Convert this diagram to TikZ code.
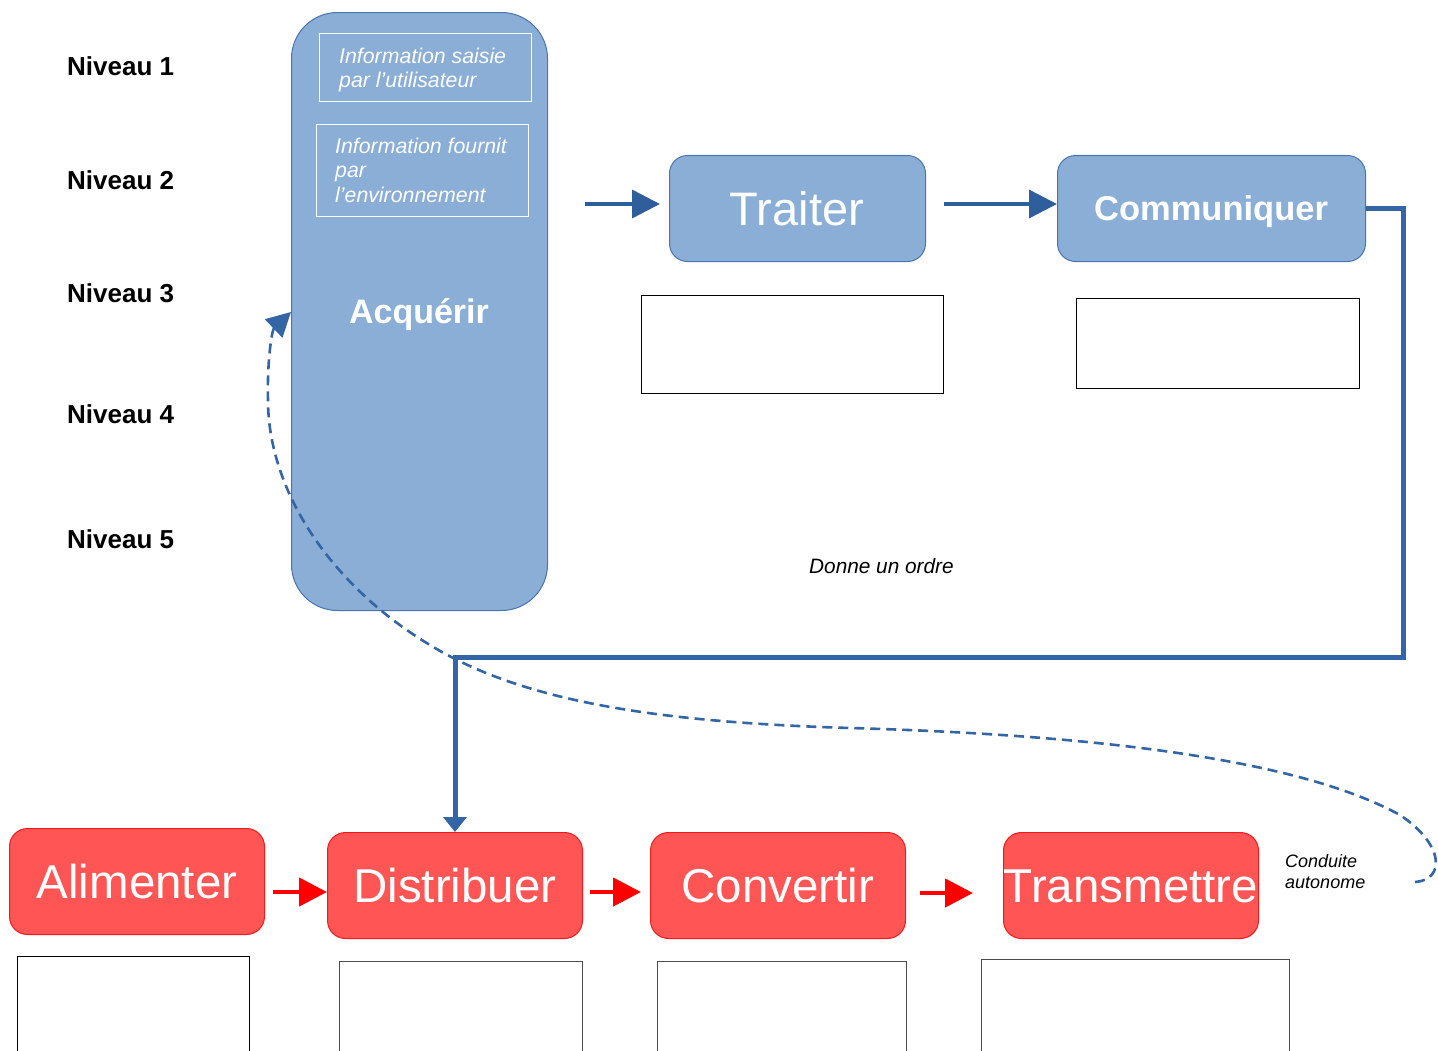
\documentclass[tikz,border=0pt]{standalone}
\usepackage{fontspec}
\setmainfont{Liberation Sans}
\usetikzlibrary{arrows.meta}
\definecolor{bfill}{HTML}{8AAED6}
\definecolor{bdraw}{HTML}{4A74B0}
\definecolor{barrow}{HTML}{2E5E9C}
\definecolor{bline}{HTML}{3465A4}
\definecolor{rfill}{HTML}{FF5555}
\definecolor{rdraw}{HTML}{EE1C1C}
\newcommand{\fsz}[1]{\fontsize{#1pt}{1.15\dimexpr#1pt\relax}\selectfont}
\begin{document}
\begin{tikzpicture}[x=1pt,y=-1pt,
  bluebox/.style={draw=bdraw, fill=bfill, line width=1pt, inner sep=0pt, anchor=north west},
  redbox/.style={draw=rdraw, fill=rfill, line width=1pt, inner sep=0pt, anchor=north west, rounded corners=18pt, minimum width=255pt, minimum height=106pt},
  infobox/.style={draw=white, line width=1.2pt, inner sep=0pt, anchor=north west},
  emptybox/.style={draw=black, line width=0.9pt, fill=white, inner sep=0pt, anchor=north west},
  lvl/.style={anchor=base west, inner sep=0pt, font=\bfseries\fsz{26}},
  redtext/.style={anchor=base, inner sep=0pt, text=white, font=\fsz{47.5}},
  infotext/.style={anchor=base west, inner sep=0pt, text=white, font=\itshape\fsz{21.3}},
  note/.style={anchor=base west, inner sep=0pt, font=\itshape\fsz{20.8}},
  bluearrow/.style={barrow, line width=3.5pt, -{Triangle[length=28pt,width=28pt]}},
  redarrow/.style={red, line width=4.5pt, -{Triangle[length=28pt,width=28pt]}},
]
\useasboundingbox (0,0) rectangle (1438,1050);
\clip (0,0) rectangle (1438,1050);

% Level labels
\node[lvl] (n1) at (67,75) {Niveau 1};
\node[lvl] (n2) at (67,189) {Niveau 2};
\node[lvl] (n3) at (67,302) {Niveau 3};
\node[lvl] (n4) at (67,423) {Niveau 4};
\node[lvl] (n5) at (67,548) {Niveau 5};

% Acquerir
\node[bluebox, rounded corners=46pt, minimum width=256pt, minimum height=598pt] (acq) at (291,12) {};
\node[anchor=base, inner sep=0pt, text=white, font=\bfseries\fsz{34}] (acqt) at (419,323) {Acquérir};
\node[infobox, minimum width=212pt, minimum height=68pt] (info1) at (319,33) {};
\node[infotext] (i1a) at (339,63) {Information saisie};
\node[infotext] (i1b) at (339,87) {par l’utilisateur};
\node[infobox, minimum width=212pt, minimum height=92pt] (info2) at (316,124) {};
\node[infotext] (i2a) at (335,153) {Information fournit};
\node[infotext] (i2b) at (335,177) {par};
\node[infotext] (i2c) at (335,202) {l’environnement};

% Traiter / Communiquer
\node[bluebox, rounded corners=18pt, minimum width=256pt, minimum height=106pt] (trait) at (669,155) {};
\node[anchor=base, inner sep=0pt, text=white, font=\fsz{47}] (traitt) at (797,225) {Traiter};
\node[bluebox, rounded corners=18pt, minimum width=308pt, minimum height=106pt] (comm) at (1057,155) {};
\node[anchor=base, inner sep=0pt, text=white, font=\bfseries\fsz{34.5}] (commt) at (1211,220) {Communiquer};

\node[emptybox, minimum width=302pt, minimum height=98pt] (e1) at (641,295) {};
\node[emptybox, minimum width=283pt, minimum height=90pt] (e2) at (1076,298) {};

\coordinate (in0) at (585,204);
\draw[bluearrow, shorten >=9pt] (in0) -- (in0 -| trait.west);
\coordinate (a2) at (944,204);
\draw[bluearrow] (a2) -- (a2 -| comm.west);

\node[note] (ordre) at (809,573) {Donne un ordre};

% Red boxes
\node[redbox] (alim) at (9,828) {};
\node[redtext] (alimt) at (alim.center |- 0,898) {Alimenter};
\node[redbox] (dist) at (327,832) {};
\node[redtext] (distt) at (dist.center |- 0,902) {Distribuer};
\node[redbox] (conv) at (650,832) {};
\node[redtext] (convt) at (conv.center |- 0,902) {Convertir};
\node[redbox] (trans) at (1003,832) {};
\node[redtext] (transt) at (trans.center |- 0,902) {Transmettre};

\coordinate (r1) at (273,892);
\draw[redarrow] (r1) -- (r1 -| dist.west);
\coordinate (r2) at (590,892);
\draw[redarrow, shorten >=9pt] (r2) -- (r2 -| conv.west);
\coordinate (r3) at (920,893);
\draw[redarrow, shorten >=30pt] (r3) -- (r3 -| trans.west);

\node[emptybox, minimum width=232pt, minimum height=120pt] (b1) at (17,956) {};
\node[emptybox, draw=black!70, minimum width=243pt, minimum height=120pt] (b2) at (339,961) {};
\node[emptybox, draw=black!70, minimum width=249pt, minimum height=120pt] (b3) at (657,961) {};
\node[emptybox, draw=black!70, minimum width=308pt, minimum height=120pt] (b4) at (981,959) {};

\node[anchor=base west, inner sep=0pt, font=\itshape\fsz{18}, align=left] (cond1) at (1285,867) {Conduite};
\node[anchor=base west, inner sep=0pt, font=\itshape\fsz{18}, align=left] (cond2) at (1285,888) {autonome};

% Order line from Communiquer to Distribuer
\coordinate (c1) at (1403,657);
\draw[bline, line width=5pt, -{Triangle[length=15pt,width=23pt]}] (comm.east) -| (c1) -| (dist.north);

% Dashed feedback curve
\coordinate (cs) at (1415,882);
\coordinate (ct) at (acq.west |- 0,312);
\draw[bline, line width=2.6pt, dash pattern=on 10pt off 6pt, -{Triangle[length=24pt,width=25pt]}]
  (cs) .. controls (1445,880) and (1445,845) .. (1400,815)
       .. controls (1300,760) and (1100,735) .. (850,728)
       .. controls (650,722) and (520,700) .. (430,645)
       .. controls (330,585) and (268,490) .. (268,400)
       .. controls (267,360) and (272,330) .. (ct);
\end{tikzpicture}
\end{document}
